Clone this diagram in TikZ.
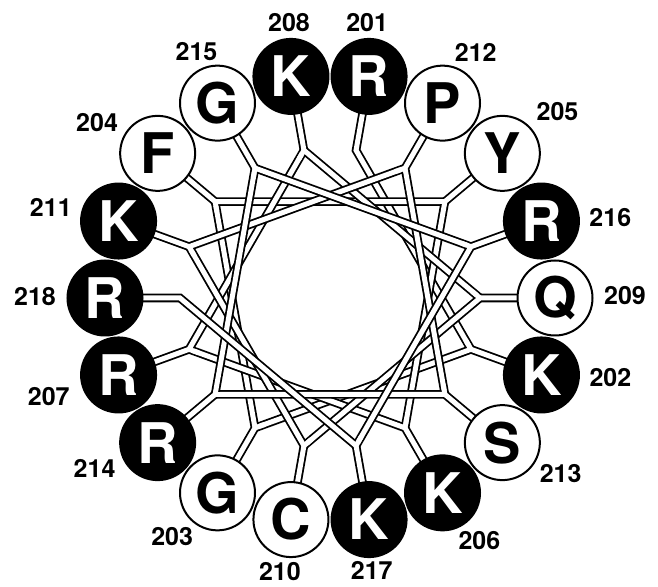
\documentclass[tikz,border=0pt]{standalone}
\usepackage{fontspec}
\setmainfont{TeX Gyre Heros}
\usetikzlibrary{calc}

\begin{document}
\begin{tikzpicture}[x=1pt,y=1pt,
  res/.style={circle,draw=black,line width=2pt,minimum size=75pt,inner sep=0pt,
              font=\fontsize{56}{56}\selectfont\bfseries},
  basic/.style={fill=black,text=white},
  polar/.style={fill=white,text=black},
  bond/.style={draw=black,line width=1.8pt,double=white,double distance=5pt,line join=miter},
  patch/.style={draw=white,line width=5pt,line cap=round},
  num/.style={font=\fontsize{25}{25}\selectfont\bfseries,inner sep=0pt}
]
  \useasboundingbox (0,0) rectangle (658,586);
  \coordinate (ctr) at (330,288);
  % residue centres and backbone junctions
  \foreach \n in {201,...,218}{
    \pgfmathsetmacro\ang{80-100*(\n-201)}
    \coordinate (c\n) at ($(ctr)+(\ang:225)$);
    \coordinate (j\n) at ($(ctr)+(\ang:150)$);
  }
  % backbone, in sequence
  \foreach \n [evaluate=\n as \m using int(\n+1)] in {201,...,216}
    \draw[bond] (c\n) -- (j\n) -- (j\m);
  \draw[bond] (c217) -- (j217) -- (j218) -- (c218);
  % clean junctions
  \foreach \n [evaluate=\n as \p using int(\n-1)] in {202,...,217}
    \draw[patch] ($(j\n)!10pt!(j\p)$) -- (j\n);
  % residues
  \foreach \n/\aa/\kind/\la/\ld in {201/R/basic/92/54, 202/K/basic/-2/69,
      203/G/polar/224/63, 204/F/polar/153/68, 205/Y/polar/37/69,
      206/K/basic/-52/60, 207/R/basic/197/73, 208/K/basic/92/54,
      209/Q/polar/2/70, 210/C/polar/258/53, 211/K/basic/169/69,
      212/P/polar/57/61, 213/S/polar/-28/66, 214/R/basic/202/68,
      215/G/polar/112/56, 216/R/basic/3/69, 217/K/basic/-87/51,
      218/R/basic/179/70}{
    \node[res,\kind] (r\n) at (c\n) {\aa};
    \node[num] (n\n) at ($(c\n)+(\la:\ld)$) {\n};
  }
\end{tikzpicture}
\end{document}
